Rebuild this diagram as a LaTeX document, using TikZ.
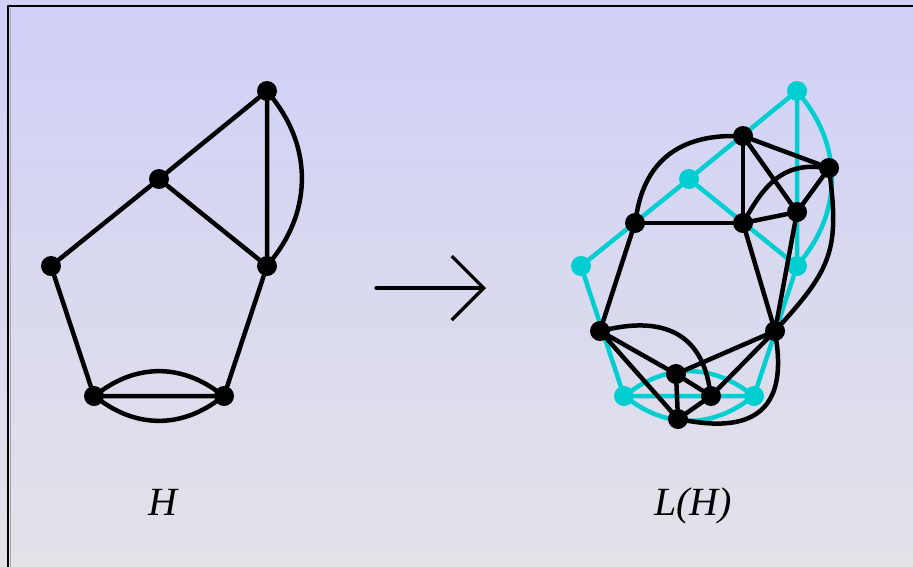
\documentclass[tikz,border=0pt]{standalone}
\usepackage{fontspec}
\setmainfont{Liberation Serif}
\usetikzlibrary{arrows.meta}
\definecolor{turq}{RGB}{0,206,209}
\definecolor{fondhaut}{RGB}{208,208,248}
\definecolor{fondbas}{RGB}{226,226,232}

\begin{document}
\begin{tikzpicture}[line cap=round,line join=round,x=1pt,y=1pt,
	sommet/.style={circle,fill=black,inner sep=0pt,minimum size=20pt},
	sommetc/.style={sommet,fill=turq},
	arete/.style={line width=4.5pt},
	aretec/.style={arete,color=turq},
	titre/.style={font=\fontsize{40}{48}\selectfont\itshape,anchor=base,inner sep=0pt}]
			\useasboundingbox (0,0) rectangle (913,-566);
			\clip (0,0) rectangle (913,-566);
			%fond et cadre
			\shade[top color=fondhaut,bottom color=fondbas] (0,0) rectangle (913,-566);
			\draw[line width=1pt,color=gray!70] (10.5,-580) -- (10.5,-8);
			\draw[line width=2pt,line cap=butt] (8,-580) -- (8,-6) -- (930,-6);
			%Graphe H
			\node[sommet] (h1) at (267,-91) {};
			\node[sommet] (h2) at (159,-179) {};
			\node[sommet] (h3) at (51,-266) {};
			\node[sommet] (h4) at (267,-266) {};
			\node[sommet] (h5) at (94,-396) {};
			\node[sommet] (h6) at (224,-396) {};
			\draw[arete] (h1)--(h2) (h2)--(h3) (h2)--(h4) (h1)--(h4) (h3)--(h5) (h4)--(h6) (h5)--(h6);
			\draw[arete] (h1) to[bend left=38] (h4);
			\draw[arete] (h5) to[bend left=35] (h6) (h5) to[bend right=35] (h6);
			\node[titre] (th) at (163,-515) {H};
			%fleche
			\coordinate (fa) at (376,-288);
			\coordinate (fb) at (486,-288);
			\draw[line width=3.2pt,-{Straight Barb[length=32pt,width=64pt]}] (fa)--(fb);
			%Copie de H en turquoise
			\node[sommetc] (c1) at (797,-91) {};
			\node[sommetc] (c2) at (689,-179) {};
			\node[sommetc] (c3) at (581,-266) {};
			\node[sommetc] (c4) at (797,-266) {};
			\node[sommetc] (c5) at (624,-396) {};
			\node[sommetc] (c6) at (754,-396) {};
			\draw[aretec] (c1)--(c2) (c2)--(c3) (c2)--(c4) (c1)--(c4) (c3)--(c5) (c4)--(c6) (c5)--(c6);
			\draw[aretec] (c1) to[bend left=38] (c4);
			\draw[aretec] (c5) to[bend left=35] (c6) (c5) to[bend right=35] (c6);
			%Graphe L(H)
			\node[sommet] (l1) at (743,-136) {};
			\node[sommet] (l2) at (829,-168) {};
			\node[sommet] (l3) at (797,-212) {};
			\node[sommet] (l4) at (635,-223) {};
			\node[sommet] (l5) at (743,-223) {};
			\node[sommet] (l6) at (600,-331) {};
			\node[sommet] (l7) at (775,-331) {};
			\node[sommet] (l8) at (711,-396) {};
			\node[sommet] (l9) at (676,-374) {};
			\node[sommet] (l10) at (678,-419) {};
			%sommet du haut
			\draw[arete] (l1)--(l2) (l1)--(l3) (l2)--(l3);
			%sommet du milieu
			\draw[arete] (l1)--(l5) (l4)--(l5);
			\draw[arete] (l4) to[out=80,in=180,looseness=1.1] (l1);
			%sommet de droite
			\draw[arete] (l3)--(l5) (l3)--(l7) (l5)--(l7);
			\draw[arete] (l5) to[out=60,in=175,looseness=1.05] (l2);
			\draw[arete] (l2) to[out=-83,in=48,looseness=1.2] (l7);
			%sommet de gauche
			\draw[arete] (l4)--(l6);
			%sommets du bas
			\draw[arete] (l6)--(l9) (l6)--(l10) (l8)--(l9) (l8)--(l10) (l9)--(l10) (l7)--(l9) (l7)--(l8);
			\draw[arete] (l6) to[out=12,in=100,looseness=1.2] (l8);
			\draw[arete] (l7) to[out=-82,in=-10,looseness=1.45] (l10);
			\node[titre] (tl) at (693,-515) {L(H)};
	\end{tikzpicture}
\end{document}
